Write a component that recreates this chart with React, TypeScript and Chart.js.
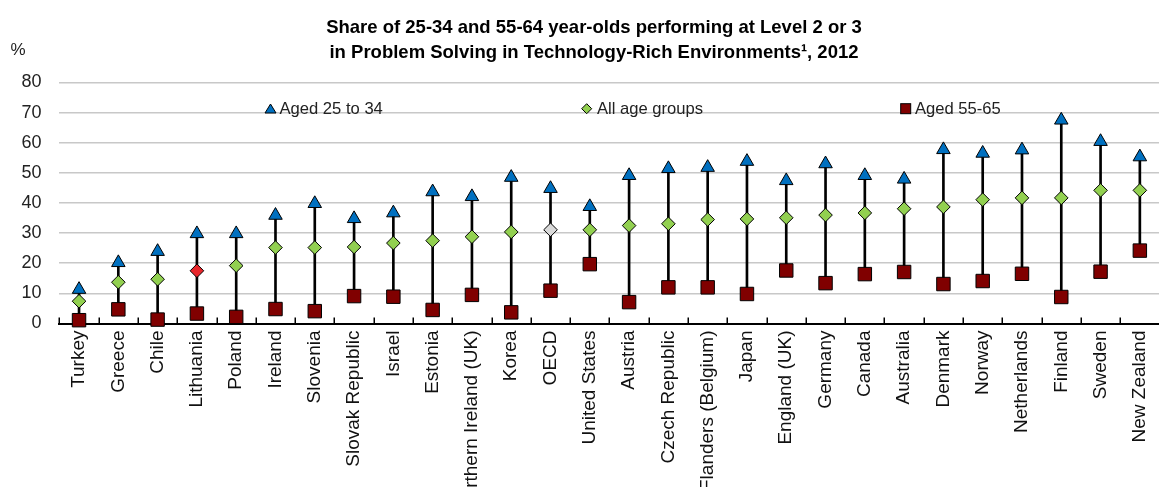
import React, { useEffect, useRef } from "react";
import { Chart, registerables } from "chart.js";

Chart.register(...registerables);

const categories = [
  "Turkey", "Greece", "Chile", "Lithuania", "Poland", "Ireland", "Slovenia",
  "Slovak Republic", "Israel", "Estonia", "Northern Ireland (UK)", "Korea", "OECD",
  "United States", "Austria", "Czech Republic", "Flanders (Belgium)", "Japan",
  "England (UK)", "Germany", "Canada", "Australia", "Denmark", "Norway",
  "Netherlands", "Finland", "Sweden", "New Zealand",
];

const aged25to34 = [
  11.3, 20.2, 23.9, 29.8, 29.8, 35.9, 39.8, 34.8, 36.7, 43.7, 42.1, 48.5, 44.8,
  38.8, 49.1, 51.4, 51.8, 53.8, 47.4, 53.0, 49.1, 47.9, 57.7, 56.5, 57.6, 67.5,
  60.4, 55.3,
];

const allAgeGroups = [
  7.4, 13.7, 14.7, 17.5, 19.2, 25.2, 25.2, 25.4, 26.7, 27.5, 28.8, 30.4, 31.1,
  31.1, 32.5, 33.1, 34.5, 34.7, 35.1, 36.0, 36.7, 38.1, 38.7, 41.1, 41.7, 41.7,
  44.2, 44.2,
];

const aged55to65 = [
  1.1, 4.7, 1.3, 3.3, 2.2, 4.8, 4.1, 9.1, 8.9, 4.5, 9.5, 3.7, 10.9, 19.7, 7.1,
  12.0, 12.0, 9.8, 17.6, 13.4, 16.4, 17.1, 13.1, 14.1, 16.5, 8.8, 17.2, 24.2,
];

const yMin = 0;
const yMax = 80;
const yStep = 10;

const titleLines = [
  "Share of 25-34 and 55-64 year-olds performing at Level 2 or 3",
  "in Problem Solving in Technology-Rich Environments\u00B9, 2012",
];
const legendLabels = ["Aged 25 to 34", "All age groups", "Aged 55-65"];
const unitLabel = "%";

const FONT = "'Liberation Sans', Arial, Helvetica, sans-serif";
const BLUE = "#0070C0";
const GREEN = "#92D050";
const RED_HL = "#E8262B";
const GREY_HL = "#D9D9D9";
const MAROON = "#800000";
const highlightColors: Record<string, string> = { Lithuania: RED_HL, OECD: GREY_HL };

const decorPlugin = {
  id: "decor",
  beforeDatasetsDraw(chart: any) {
    const { ctx, chartArea, scales } = chart;
    const x = scales.x;
    const n = categories.length;
    const step = (x.right - x.left) / n;
    ctx.save();
    ctx.strokeStyle = "#000";
    ctx.lineWidth = 1.5;
    for (let i = 0; i <= n; i++) {
      const px = Math.round(x.left + i * step) + 0.25;
      ctx.beginPath();
      ctx.moveTo(px, chartArea.bottom);
      ctx.lineTo(px, chartArea.bottom - 6);
      ctx.stroke();
    }
    ctx.restore();
  },
  afterDraw(chart: any) {
    const { ctx } = chart;
    ctx.save();
    // title
    ctx.fillStyle = "#000";
    ctx.textAlign = "center";
    ctx.textBaseline = "alphabetic";
    ctx.font = `bold 18.5px ${FONT}`;
    ctx.fillText(titleLines[0], 594, 33);
    ctx.fillText(titleLines[1], 594, 58);
    // unit
    ctx.font = `17px ${FONT}`;
    ctx.fillStyle = "#222";
    ctx.textBaseline = "middle";
    ctx.fillText(unitLabel, 18, 50);

    // legend
    ctx.textAlign = "left";
    ctx.font = `16.6px ${FONT}`;
    ctx.lineWidth = 1;
    ctx.strokeStyle = "#000";
    // triangle
    const tx = 270.5, ty = 109;
    ctx.beginPath();
    ctx.moveTo(tx, ty - 5);
    ctx.lineTo(tx + 5.5, ty + 4);
    ctx.lineTo(tx - 5.5, ty + 4);
    ctx.closePath();
    ctx.fillStyle = BLUE;
    ctx.fill();
    ctx.stroke();
    ctx.fillStyle = "#222";
    ctx.fillText(legendLabels[0], 279.5, 109);
    // diamond
    const dx = 586.7, dy = 108.7;
    ctx.beginPath();
    ctx.moveTo(dx, dy - 5);
    ctx.lineTo(dx + 5, dy);
    ctx.lineTo(dx, dy + 5);
    ctx.lineTo(dx - 5, dy);
    ctx.closePath();
    ctx.fillStyle = GREEN;
    ctx.fill();
    ctx.stroke();
    ctx.fillStyle = "#222";
    ctx.fillText(legendLabels[1], 597, 109);
    // square
    const sx = 905.7, sy = 108.7;
    ctx.fillStyle = MAROON;
    ctx.fillRect(sx - 5, sy - 5, 10, 10);
    ctx.strokeRect(sx - 5, sy - 5, 10, 10);
    ctx.fillStyle = "#222";
    ctx.fillText(legendLabels[2], 915, 109);
    ctx.restore();
  },
};

export default function App() {
  const canvasRef = useRef<HTMLCanvasElement | null>(null);

  useEffect(() => {
    if (!canvasRef.current) return;
    const diamondColors = categories.map((c) => highlightColors[c] || GREEN);
    const chart = new Chart(canvasRef.current, {
      type: "bar",
      data: {
        labels: categories,
        datasets: [
          {
            type: "bar",
            label: "range",
            data: categories.map((_, i) => [aged55to65[i], aged25to34[i]]) as any,
            backgroundColor: "#000",
            borderWidth: 0,
            barThickness: 2,
            order: 10,
          } as any,
          {
            type: "line",
            label: legendLabels[2],
            data: aged55to65,
            showLine: false,
            pointStyle: "rect",
            pointRadius: 9.5,
            pointBackgroundColor: MAROON,
            pointBorderColor: "#000",
            pointBorderWidth: 1,
            clip: false,
            order: 3,
          } as any,
          {
            type: "line",
            label: legendLabels[1],
            data: allAgeGroups,
            showLine: false,
            pointStyle: "rectRot",
            pointRadius: 6.8,
            pointBackgroundColor: diamondColors,
            pointBorderColor: "#000",
            pointBorderWidth: 1,
            clip: false,
            order: 2,
          } as any,
          {
            type: "line",
            label: legendLabels[0],
            data: aged25to34,
            showLine: false,
            pointStyle: "triangle",
            pointRadius: 7.8,
            pointBackgroundColor: BLUE,
            pointBorderColor: "#000",
            pointBorderWidth: 1,
            clip: false,
            order: 1,
          } as any,
        ],
      },
      options: {
        responsive: false,
        animation: false,
        events: [],
        devicePixelRatio: 1,
        layout: { padding: { top: 82.5, left: 0, right: 1, bottom: 0 } },
        plugins: {
          legend: { display: false },
          tooltip: { enabled: false },
          title: { display: false },
        },
        scales: {
          x: {
            type: "category",
            offset: true,
            grid: { display: true, drawOnChartArea: false, drawTicks: false },
            border: { display: true, color: "#000", width: 2 },
            ticks: {
              autoSkip: false,
              minRotation: 90,
              maxRotation: 90,
              padding: 7,
              color: "#111",
              font: { family: FONT, size: 19 },
            },
            afterFit: (s: any) => {
              s.height = 163.5;
              s.paddingLeft = 0;
              s.paddingRight = 0;
            },
          },
          y: {
            min: yMin,
            max: yMax,
            grid: { color: "#c8c8c8", lineWidth: 1.6, drawTicks: false },
            border: { display: false },
            ticks: {
              stepSize: yStep,
              padding: 18,
              color: "#222",
              font: { family: FONT, size: 18 },
            },
            afterFit: (s: any) => {
              s.width = 59.4;
            },
          },
        },
      },
      plugins: [decorPlugin],
    });
    return () => chart.destroy();
  }, []);

  return (
    <div
      style={{
        position: "absolute",
        left: 0,
        top: 0,
        width: 1159,
        height: 487,
        overflow: "hidden",
        background: "#fff",
      }}
    >
      <canvas ref={canvasRef} width={1170} height={487} style={{ display: "block" }} />
    </div>
  );
}
